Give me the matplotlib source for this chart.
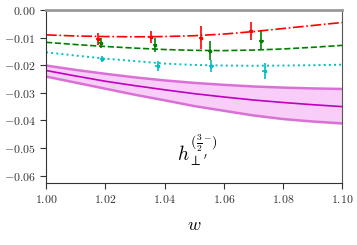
import matplotlib
matplotlib.use("Agg")
import matplotlib.pyplot as plt
import numpy as np

plt.rcParams['mathtext.fontset'] = 'cm'
plt.rcParams['font.family'] = 'serif'
plt.rcParams['font.serif'] = ['DejaVu Serif']

w = [1.00, 1.01, 1.02, 1.03, 1.04, 1.05, 1.06, 1.07, 1.08, 1.09, 1.10]
red_curve = [-0.0090, -0.0094, -0.0096, -0.0097, -0.0096, -0.0093, -0.0087, -0.0078, -0.0067, -0.0056, -0.0045]
green_curve = [-0.0117, -0.0125, -0.0132, -0.0138, -0.0143, -0.0146, -0.0147, -0.0145, -0.0141, -0.0135, -0.0128]
cyan_curve = [-0.0153, -0.0165, -0.0176, -0.0185, -0.0194, -0.0199, -0.0201, -0.0202, -0.0201, -0.0200, -0.0198]
band_center = [-0.0219, -0.0239, -0.0258, -0.0274, -0.0289, -0.0303, -0.0315, -0.0326, -0.0335, -0.0343, -0.0350]
band_upper = [-0.0201, -0.0217, -0.0231, -0.0244, -0.0255, -0.0264, -0.0271, -0.0277, -0.0281, -0.0284, -0.0286]
band_lower = [-0.0241, -0.0263, -0.0285, -0.0307, -0.0327, -0.0348, -0.0365, -0.0382, -0.0395, -0.0404, -0.0411]

red_w = [1.0176, 1.0353, 1.0523, 1.0692]
red_y = [-0.0105, -0.0098, -0.0100, -0.0076]
red_err = [0.0021, 0.0021, 0.0042, 0.0031]
green_w = [1.0185, 1.0368, 1.0553, 1.0727]
green_y = [-0.0121, -0.0127, -0.0147, -0.0111]
green_err = [0.0018, 0.0024, 0.0034, 0.0034]
cyan_w = [1.0190, 1.0377, 1.0558, 1.0738]
cyan_y = [-0.0178, -0.0202, -0.0202, -0.0221]
cyan_err = [0.0010, 0.0019, 0.0022, 0.0030]
pt_xerr = 0.0008

xticks = [1.00, 1.02, 1.04, 1.06, 1.08, 1.10]
yticks = [0.00, -0.01, -0.02, -0.03, -0.04, -0.05, -0.06]
xticklabels = ['$1.00$', '$1.02$', '$1.04$', '$1.06$', '$1.08$', '$1.10$']
yticklabels = ['$0.00$', '$-0.01$', '$-0.02$', '$-0.03$', '$-0.04$', '$-0.05$', '$-0.06$']

fig = plt.figure(figsize=(3.57, 2.45), dpi=100)
ax = fig.add_axes([0.129, 0.255, 0.830, 0.704])

ax.fill_between(w, band_lower, band_upper, color='violet', alpha=0.4, lw=0)
ax.plot(w, band_upper, color='orchid', lw=1.8)
ax.plot(w, band_lower, color='orchid', lw=1.8)
ax.plot(w, band_center, color='m', lw=1.2)

ax.plot(w, red_curve, color='red', ls='-.', lw=1.2)
ax.plot(w, green_curve, color='green', ls='--', lw=1.2)
ax.plot(w, cyan_curve, color='c', ls=':', lw=1.4)

ax.errorbar(red_w, red_y, yerr=red_err, xerr=pt_xerr, fmt='s', ms=2, color='red', elinewidth=1.2)
ax.errorbar(green_w, green_y, yerr=green_err, xerr=pt_xerr, fmt='s', ms=2, color='green', elinewidth=1.2)
ax.errorbar(cyan_w, cyan_y, yerr=cyan_err, xerr=pt_xerr, fmt='s', ms=2, color='c', elinewidth=1.2)

ax.set_xlim(1.00, 1.10)
ax.set_ylim(-0.0625, 0.0)
ax.set_xticks(xticks)
ax.set_xticklabels(xticklabels, fontsize=8.5, color='#333333')
ax.set_yticks(yticks)
ax.set_yticklabels(yticklabels, fontsize=8.5, color='#333333')
ax.tick_params(direction='out', length=4, width=0.8, colors='#333333')
ax.spines['top'].set_color('#999999')
ax.spines['top'].set_linewidth(2)
ax.spines['right'].set_color('#555555')
for s in ['left', 'bottom']:
    ax.spines[s].set_color('#333333')

ax.set_xlabel('$w$', fontsize=13, labelpad=7)
ax.text(1.051, -0.051, r'$h_{\perp^{\prime}}^{(\frac{3}{2}^{-})}$', fontsize=14, ha='center', va='center')

fig.savefig('out.png', dpi=100)
